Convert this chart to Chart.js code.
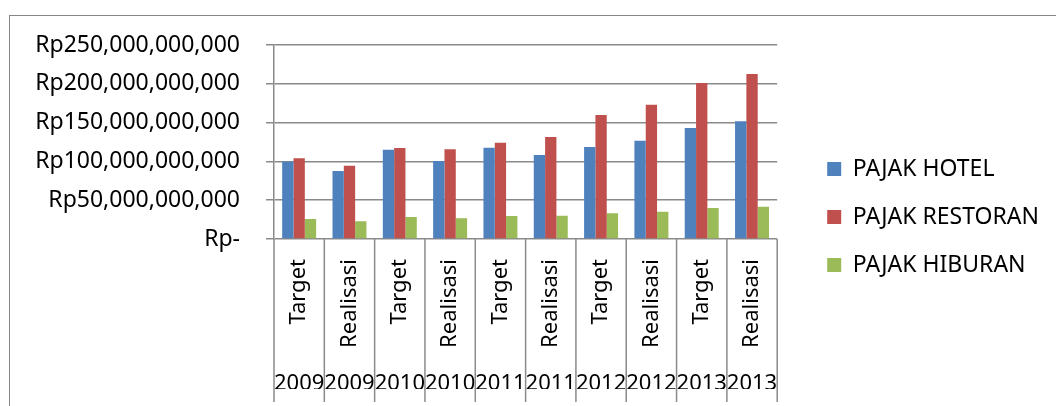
<!DOCTYPE html>
<html>
<head>
<meta charset="utf-8">
<script src="https://cdn.jsdelivr.net/npm/chart.js@4.4.1/dist/chart.umd.min.js"></script>
<style>
    html, body { margin: 0; padding: 0; background: #fff; }
    #wrap { position: relative; width: 1056px; height: 406px; overflow: hidden; }
    #frame { position: absolute; left: 9px; top: 15px; width: 1200px; height: 600px;
             border-left: 1px solid #868686; border-top: 1px solid #868686; }
    canvas { position: absolute; left: 0; top: 0; }
</style>
</head>
<body>
<div id="wrap">
    <div id="frame"></div>
    <canvas id="pajakChart" width="1056" height="406"></canvas>
</div>
<script>
var categories = ['Target', 'Realisasi', 'Target', 'Realisasi', 'Target', 'Realisasi', 'Target', 'Realisasi', 'Target', 'Realisasi'];
var years = ['2009', '2009', '2010', '2010', '2011', '2011', '2012', '2012', '2013', '2013'];

// values in Rupiah
var pajakHotel = [100.0e9, 87.6e9, 115.0e9, 100.5e9, 117.7e9, 108.2e9, 118.6e9, 126.7e9, 143.0e9, 151.6e9];
var pajakRestoran = [104.0e9, 94.5e9, 117.3e9, 115.6e9, 124.1e9, 131.4e9, 159.8e9, 173.1e9, 201.0e9, 212.6e9];
var pajakHiburan = [25.8e9, 22.8e9, 28.4e9, 26.6e9, 29.6e9, 30.1e9, 33.1e9, 35.2e9, 40.0e9, 41.7e9];

var yMax = 250e9;
var yStep = 50e9;

document.addEventListener('DOMContentLoaded', function () {
    Chart.defaults.font.family = '"Noto Sans", sans-serif';
    Chart.defaults.color = '#000';

    var gridColor = '#8a8a8a';

    // vertical separators below the axis, between the categories
    var categoryDividers = {
        id: 'categoryDividers',
        afterDraw: function (chart) {
            var xs = chart.scales.x;
            var ctx = chart.ctx;
            ctx.save();
            ctx.strokeStyle = gridColor;
            ctx.lineWidth = 1.5;
            for (var i = 0; i <= categories.length; i++) {
                var px = xs.getPixelForValue(i - 0.5);
                ctx.beginPath();
                ctx.moveTo(px, chart.chartArea.bottom);
                ctx.lineTo(px, chart.height - 4);
                ctx.stroke();
            }
            ctx.restore();
        }
    };

    var ctx = document.getElementById('pajakChart').getContext('2d');
    var pajakChart = new Chart(ctx, {
        type: 'bar',
        data: {
            labels: categories,
            datasets: [
                { label: 'PAJAK HOTEL', data: pajakHotel, backgroundColor: '#4F81BD', borderWidth: 0 },
                { label: 'PAJAK RESTORAN', data: pajakRestoran, backgroundColor: '#C0504D', borderWidth: 0 },
                { label: 'PAJAK HIBURAN', data: pajakHiburan, backgroundColor: '#9BBB59', borderWidth: 0 }
            ]
        },
        options: {
            responsive: false,
            animation: false,
            devicePixelRatio: 1,
            categoryPercentage: 0.675,
            barPercentage: 1.0,
            layout: {
                padding: { left: 0, right: 7, top: 45, bottom: 17 }
            },
            scales: {
                x: {
                    position: 'bottom',
                    grid: { display: false },
                    border: { display: false },
                    ticks: {
                        autoSkip: false,
                        minRotation: 90,
                        maxRotation: 90,
                        padding: 12,
                        font: { size: 22 }
                    },
                    afterFit: function (scale) { scale.height = 130; }
                },
                x2: {
                    type: 'category',
                    position: 'bottom',
                    labels: years,
                    grid: { display: false, drawTicks: false },
                    border: { display: false },
                    ticks: {
                        autoSkip: false,
                        maxRotation: 0,
                        padding: 2,
                        font: { size: 22 }
                    },
                    afterFit: function (scale) { scale.height = 20; }
                },
                y: {
                    min: 0,
                    max: yMax,
                    grid: { color: gridColor, lineWidth: 1.5, tickLength: 8 },
                    border: { color: gridColor, width: 1.5 },
                    ticks: {
                        stepSize: yStep,
                        padding: 26,
                        font: { size: 23 },
                        callback: function (v) {
                            return v === 0 ? 'Rp-' : 'Rp' + Number(v).toLocaleString('en-US');
                        }
                    },
                    afterFit: function (scale) { scale.width = 274; }
                },
                spacer: {
                    type: 'linear',
                    position: 'right',
                    grid: { display: false, drawTicks: false },
                    border: { display: false },
                    ticks: { display: false },
                    afterFit: function (scale) { scale.width = 25; }
                }
            },
            plugins: {
                legend: {
                    position: 'right',
                    maxWidth: 400,
                    labels: {
                        boxWidth: 14,
                        boxHeight: 14,
                        padding: 25,
                        font: { size: 23 }
                    }
                },
                tooltip: { enabled: false }
            }
        },
        plugins: [categoryDividers]
    });
});
</script>
</body>
</html>
